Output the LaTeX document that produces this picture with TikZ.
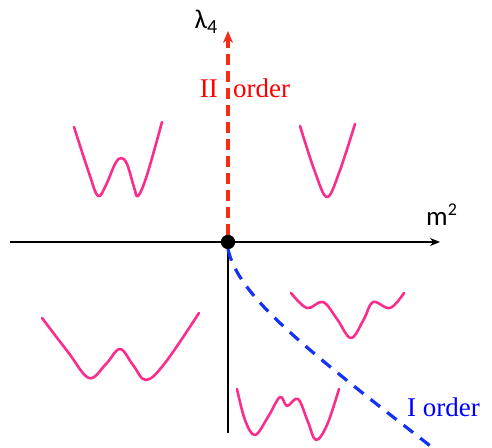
\documentclass[tikz,border=0pt]{standalone}
\usepackage{fontspec}
\setmainfont{Liberation Serif}
\newfontfamily\calfont{Carlito}
\usetikzlibrary{arrows.meta}
\definecolor{wellpink}{RGB}{250,45,140}
\definecolor{dashred}{RGB}{245,45,20}
\definecolor{dashblue}{RGB}{20,50,245}
\tikzset{
  axisline/.style={line width=1.8pt, black},
  well/.style={line width=2.6pt, wellpink, line cap=round, line join=round},
  redline/.style={line width=3.2pt, dashred, dash pattern=on 11pt off 6pt},
  blueline/.style={line width=3.2pt, dashblue, dash pattern=on 12pt off 9pt},
  lbl/.style={inner sep=0pt, font=\fontsize{27}{27}\selectfont}
}
\begin{document}
\begin{tikzpicture}[x=1pt,y=1pt]
\useasboundingbox (0,0) rectangle (492,447);
% axes
\coordinate (xl) at (10,205);
\coordinate (xr) at (440,205);
\coordinate (yb) at (228,14);
\coordinate (yt) at (228,416);
\coordinate (be) at (433,-1);
\node[circle, fill=black, inner sep=0pt, minimum size=14pt] (o) at (228,205) {};
\draw[axisline, -{Stealth[length=10pt,width=8pt]}] (xl) -- (xr);
\draw[axisline] (o.center) -- (yb);
\draw[redline, -{Stealth[length=12pt,width=10pt]}] (o.north) -- (yt);
\draw[blueline] (o.south) .. controls (238,152) and (300,102) .. (be);
\node[circle, fill=black, inner sep=0pt, minimum size=14pt] at (o.center) {};
% labels
\node[lbl, font=\calfont\fontsize{27}{27}\selectfont] (lam) at (206,425) {λ\raisebox{-0.35ex}{\fontsize{20}{20}\selectfont 4}};
\node[lbl, font=\calfont\fontsize{27}{27}\selectfont, anchor=base west] (msq) at (426,221) {m\raisebox{0.85ex}{\fontsize{18}{18}\selectfont 2}};
\node[lbl, text=red, anchor=base east] (two) at (218,349) {II};
\node[lbl, text=red, anchor=base west] (ord2) at (233,349) {order};
\node[lbl, text=blue, anchor=base west] (ord1) at (407,31) {I order};
% potential wells
\draw[well] plot[smooth, tension=0.6] coordinates {(74,320) (89,274) (98,251) (106,262) (115,283) (121,289) (127,283) (134,260) (138,251) (147,272) (162,325)};
\draw[well] plot[smooth, tension=0.6] coordinates {(300,321) (315,275) (327,250) (339,274) (355,323)};
\draw[well] plot[smooth, tension=0.6] coordinates {(42,129) (68,95) (89,69) (106,83) (120,98) (133,82) (146,67) (165,84) (199,134)};
\draw[well] plot[smooth, tension=0.6] coordinates {(291,154) (307,139) (323,145) (337,128) (351,109) (364,128) (373,145) (390,139) (404,154)};
\draw[well] plot[smooth, tension=0.6] coordinates {(237,58) (245,27) (255,12) (268,30) (280,50) (287,41) (298,48) (308,25) (316,7) (327,22) (339,58)};
\end{tikzpicture}
\end{document}
